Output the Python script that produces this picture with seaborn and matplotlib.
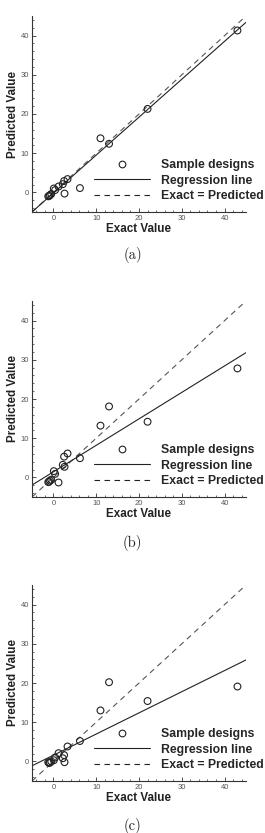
import numpy as np
import matplotlib
matplotlib.use("Agg")
import matplotlib.pyplot as plt
import seaborn as sns
from matplotlib.ticker import MultipleLocator
from matplotlib.lines import Line2D

# valores exactos de los diseños de muestra (comunes a los tres paneles)
exact = [43.0, 22.0, 13.0, 11.0, 6.2, 3.3, 2.5, 2.2, 2.6, 1.2, 0.4, 0.1, -0.5, -0.8, -1.0, -1.2]

# valores predichos por panel
pred_a = [41.3, 21.3, 12.4, 13.8, 1.1, 3.4, 2.9, 2.1, -0.3, 1.5, 0.6, 1.0, -0.4, -0.7, -0.9, -1.0]
pred_b = [27.8, 14.2, 18.1, 13.2, 4.9, 6.1, 5.3, 3.2, 2.7, -1.3, 0.9, 1.6, -0.6, -0.8, -1.1, -1.2]
pred_c = [19.1, 15.4, 20.2, 13.0, 5.2, 3.8, 1.6, 0.8, -0.2, 2.1, 1.0, 0.3, 0.0, -0.3, -0.4, -0.2]

paneles = ["(a)", "(b)", "(c)"]
predichos = [pred_a, pred_b, pred_c]
limites = [-5, 45]
ticks = [0, 10, 20, 30, 40]

sns.set_style("white")
plt.rcParams["font.family"] = ["Liberation Sans", "DejaVu Sans"]

W, H = 265, 833
fig = plt.figure(figsize=(W / 100, H / 100), dpi=100)

# posiciones de los ejes en pixeles (izq, arriba, der, abajo)
cajas = [(32, 16, 246, 212), (32, 301, 246, 497), (32, 585, 246, 781)]
etiquetas_y = [255, 543, 826]

for caja, pred, nombre, ety in zip(cajas, predichos, paneles, etiquetas_y):
    x0, y0, x1, y1 = caja
    ax = fig.add_axes([x0 / W, 1 - y1 / H, (x1 - x0) / W, (y1 - y0) / H])
    ax.set_xlim(limites)
    ax.set_ylim(limites)

    # linea exacta = predicha
    ax.plot(limites, limites, color="#555555", lw=0.8, ls=(0, (5, 4)), zorder=1)

    # recta de regresion
    sns.regplot(x=exact, y=pred, ax=ax, scatter=False, ci=None, truncate=False,
                line_kws={"color": "#222222", "lw": 0.8, "zorder": 2})

    # puntos
    sns.scatterplot(x=exact, y=pred, ax=ax, marker="o", s=24, facecolor="none",
                    edgecolor="#222222", linewidth=0.8, zorder=3)

    ax.set_xlim(limites)
    ax.set_ylim(limites)
    ax.set_xticks(ticks)
    ax.set_yticks(ticks)
    ax.xaxis.set_minor_locator(MultipleLocator(2))
    ax.yaxis.set_minor_locator(MultipleLocator(2))
    ax.tick_params(which="major", direction="in", length=3, width=0.6, color="#333333",
                   labelsize=5.5, labelcolor="#555555", pad=2)
    ax.tick_params(which="minor", direction="in", length=1.5, width=0.5, color="#333333")
    ax.tick_params(axis="x", which="both", bottom=True)
    ax.tick_params(axis="y", which="both", left=True)

    for lado in ["top", "right"]:
        ax.spines[lado].set_visible(False)
    for lado in ["left", "bottom"]:
        ax.spines[lado].set_color("#333333")
        ax.spines[lado].set_linewidth(0.8)

    ax.set_xlabel("Exact Value", fontsize=8.4, fontweight="bold", labelpad=1, color="#222222")
    ax.set_ylabel("Predicted Value", fontsize=8.4, fontweight="bold", labelpad=1, color="#222222")

    manijas = [
        Line2D([], [], ls="none", marker="o", ms=4.8, mfc="none", mec="#222222", mew=0.8),
        Line2D([], [], color="#222222", lw=0.8),
        Line2D([], [], color="#222222", lw=0.8, ls=(0, (5, 4))),
    ]
    ax.legend(manijas, ["Sample designs", "Regression line", "Exact = Predicted"],
              loc="center left", bbox_to_anchor=(0.26, 0.16), frameon=False,
              borderpad=0, handlelength=4.6, handletextpad=0.9, labelspacing=0.3,
              prop={"size": 8.8, "weight": "bold"})

    fig.text(0.5, 1 - ety / H, nombre, ha="center", va="center", fontsize=10.5,
             family="cmr10", color="#222222")

fig.savefig("out.png", dpi=100)
